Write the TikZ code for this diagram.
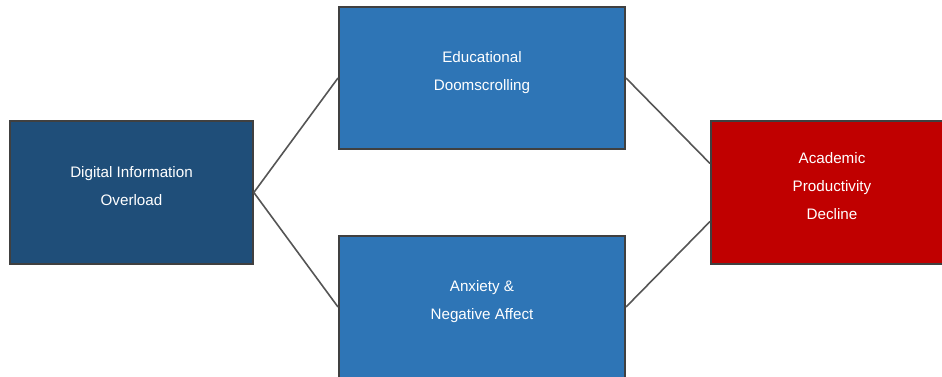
\documentclass[tikz,border=0pt]{standalone}
\usepackage{fontspec}
\setmainfont{Liberation Sans}
\usepackage{tikz}
\usetikzlibrary{positioning}
\definecolor{darkblue}{HTML}{1F4E79}
\definecolor{midblue}{HTML}{2E75B6}
\definecolor{darkred}{HTML}{C00000}
\definecolor{edgegray}{HTML}{404040}
\definecolor{linkgray}{HTML}{555555}

\begin{document}
\begin{tikzpicture}[x=0.75pt,y=-0.75pt]
\tikzstyle{factor}=[draw=edgegray,line width=1.5pt,text=white,align=center,
  font=\fontsize{11.4}{21}\selectfont,inner sep=0pt,text depth=10pt]
\tikzstyle{link}=[draw=linkgray,line width=1.2pt]
\useasboundingbox (0,0) rectangle (942,377);
\begin{scope}
    \node [factor,fill=darkblue,minimum width=182pt,minimum height=107pt] (overload) at (131.5,192.5) {Digital Information\\Overload};
    \node [factor,fill=midblue,minimum width=214.5pt,minimum height=106.5pt] (doom) at (482,78) {Educational\\Doomscrolling};
    \node [factor,fill=midblue,minimum width=214.5pt,minimum height=106.5pt] (anxiety) at (482,307) {Anxiety \&\\Negative Affect};
    \node [factor,fill=darkred,minimum width=181.5pt,minimum height=107pt] (decline) at (832,192.5) {Academic\\Productivity\\Decline};
\end{scope}
\draw [link] (overload.east) -- (doom.west);
\draw [link] (overload.east) -- (anxiety.west);
\draw [link] (doom.east) -- ([yshift=21.75pt]decline.west);
\draw [link] (anxiety.east) -- ([yshift=-21.75pt]decline.west);
\end{tikzpicture}
\end{document}
